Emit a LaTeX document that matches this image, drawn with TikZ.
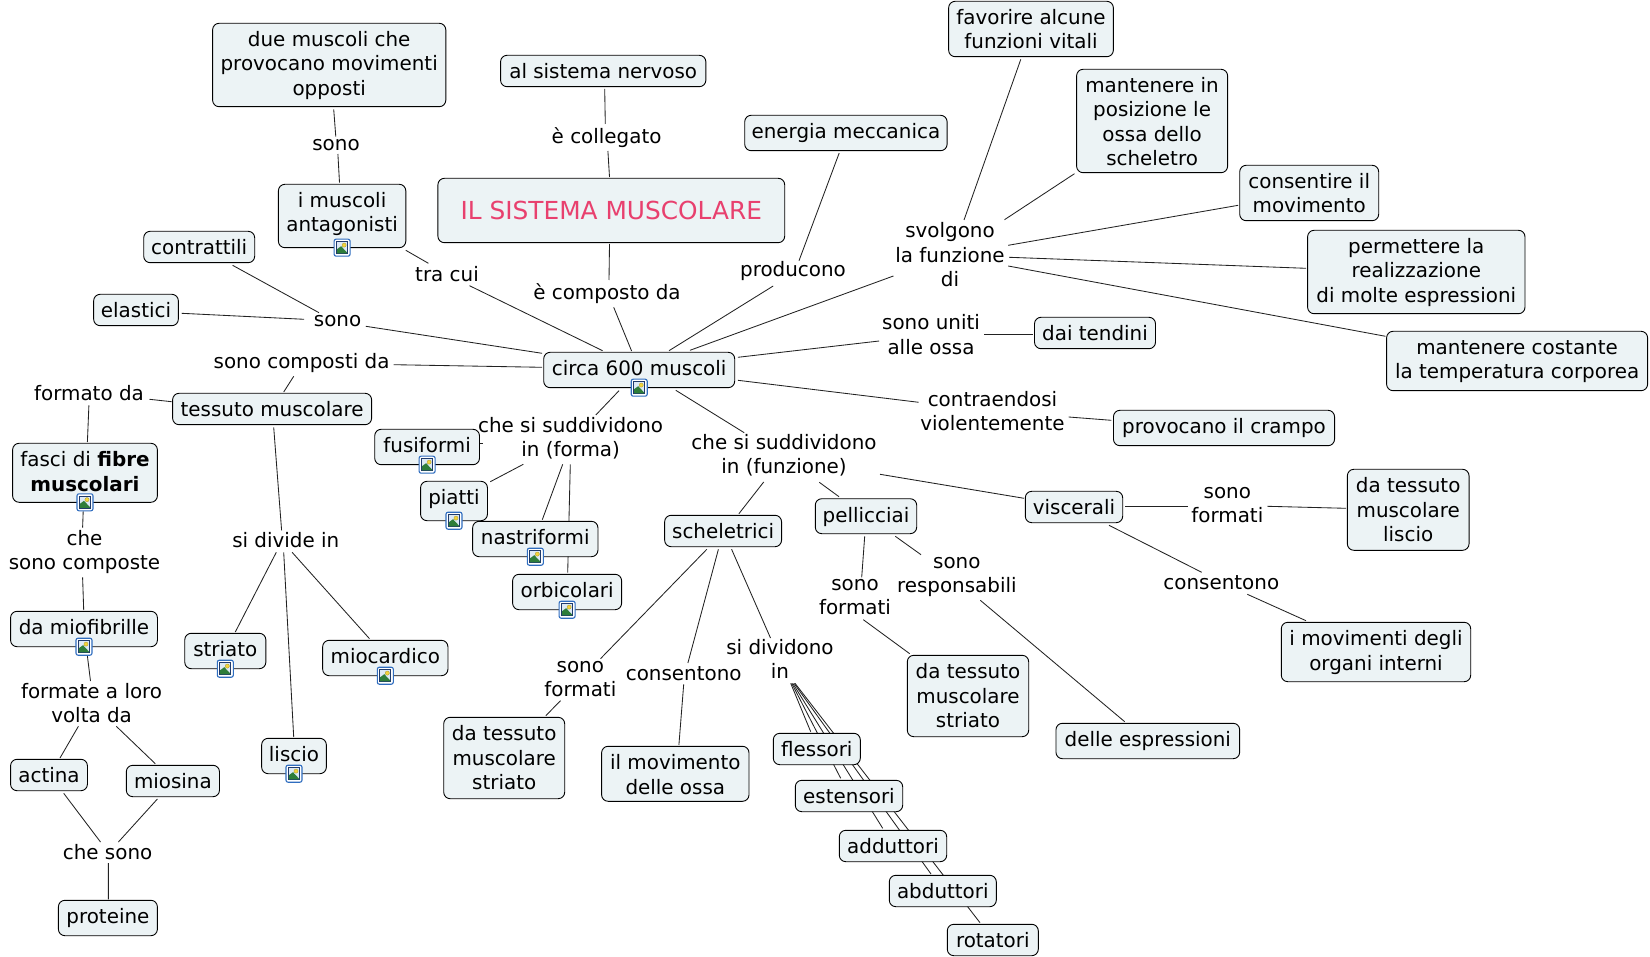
\documentclass[tikz,border=0pt]{standalone}
\usepackage{fontspec}
\setmainfont{DejaVu Sans}
\usetikzlibrary{calc,backgrounds}
\definecolor{boxfill}{HTML}{ECF3F5}
\definecolor{titlepink}{HTML}{E8406E}
\definecolor{linkcol}{HTML}{222222}
\definecolor{iconblue}{HTML}{2F6DBF}
\definecolor{iconsky}{HTML}{DCE9F5}
\definecolor{icongreen}{HTML}{2E7D3A}
\definecolor{iconnavy}{HTML}{1F3A6B}
\definecolor{iconsun}{HTML}{F2D43C}
\tikzset{
  concept/.style={draw=black,line width=0.9pt,fill=boxfill,rounded corners=6.5pt,inner sep=0pt,outer sep=0pt,align=center,text=black,font=\fontsize{19.9}{24.3}\selectfont},
  boxm/.code 2 args={\pgfmathsetmacro\boxht{23.4+(#2-1)*24.3}\pgfmathsetmacro\boxdepth{#1-\boxht}\tikzset{minimum height=#1pt,text height/.expanded=\boxht pt,text depth/.expanded=\boxdepth pt}},
  boxh/.style={boxm={#1}{1}},
  phrase/.style={inner sep=0pt,outer sep=0pt,align=center,text=black,font=\fontsize{19.9}{24.3}\selectfont,text height=17pt,text depth=4pt},
  twolines/.style={text height=41.3pt},
  threelines/.style={text height=65.6pt},
  conn/.style={draw=linkcol,line width=0.85pt},
}
\newcommand\imgicon[1]{%
  \begin{scope}[shift={(#1.south)}]
    \fill[white,draw=iconblue,line width=1.1pt,rounded corners=2pt] (-8,-8.5) rectangle (8,8.5);
    \fill[iconsky,draw=iconnavy,line width=0.8pt] (-5.5,-6) rectangle (5.5,6);
    \fill[icongreen] (-5.1,5.6) -- (-5.1,1.5) -- (-1,-1.5) -- (5.1,5) -- (5.1,5.6) -- cycle;
    \fill[iconsun,draw=iconsun!70!black,line width=0.3pt] (2,-2.6) circle (2.1);
  \end{scope}}
\begin{document}
\begin{tikzpicture}[x=1pt,y=-1pt]
\useasboundingbox (0,0) rectangle (1650,957);
% concepts
\node[concept,minimum width=233.2pt,boxm={83.4}{3}] (duemusc) at (329.2,65) {due muscoli che\\provocano movimenti\\opposti};
\node[concept,minimum width=205.3pt,boxh=31.4] (sistnerv) at (603.2,71) {al sistema nervoso};
\node[concept,minimum width=127.4pt,boxm={63.4}{2}] (antag) at (342.1,216) {i muscoli\\antagonisti};
\node[concept,minimum width=346.8pt,minimum height=64.4pt,text height=41pt,text depth=23.4pt,text=titlepink,font=\fontsize{24.8}{28}\selectfont] (title) at (611.3,210.5) {IL SISTEMA MUSCOLARE};
\node[concept,minimum width=111pt,boxh=31.4] (contr) at (199.2,247) {contrattili};
\node[concept,minimum width=84.7pt,boxh=31.4] (elast) at (136,310) {elastici};
\node[concept,minimum width=191pt,boxh=35.4] (circa) at (639.2,370) {circa 600 muscoli};
\node[concept,minimum width=199pt,boxh=31.4] (tessuto) at (272.1,409) {tessuto muscolare};
\node[concept,minimum width=104.8pt,boxh=35.4] (fusi) at (427.1,447) {fusiformi};
\node[concept,minimum width=144.8pt,boxm={59}{2}] (fasci) at (85,472.8) {fasci di \textbf{fibre}\\\textbf{muscolari}};
\node[concept,minimum width=202.4pt,boxh=35.4] (energia) at (845.9,133) {energia meccanica};
\node[concept,minimum width=164.7pt,boxm={55.4}{2}] (favorire) at (1031,29) {favorire alcune\\funzioni vitali};
\node[concept,minimum width=151pt,boxm={103.4}{4}] (mantpos) at (1152.1,121) {mantenere in\\posizione le\\ossa dello\\scheletro};
\node[concept,minimum width=139pt,boxm={55.4}{2}] (consmov) at (1309.2,193) {consentire il\\movimento};
\node[concept,minimum width=217.4pt,boxm={83.4}{3}] (permet) at (1416.3,272) {permettere la\\realizzazione\\di molte espressioni};
\node[concept,minimum width=261pt,boxm={59.4}{2}] (mantcost) at (1517.1,361) {mantenere costante\\la temperatura corporea};
\node[concept,minimum width=121pt,boxh=31.4] (tendini) at (1095,333) {dai tendini};
\node[concept,minimum width=221.1pt,boxh=35.4] (crampo) at (1224,428) {provocano il crampo};
\node[concept,minimum width=66.9pt,boxh=39.4] (piatti) at (454,501) {piatti};
\imgicon{piatti}
\node[concept,minimum width=125.3pt,boxh=35.4] (nastri) at (535.3,539) {nastriformi};
\node[concept,minimum width=109pt,boxh=35.4] (orbic) at (567.1,592) {orbicolari};
\node[concept,minimum width=116.9pt,boxh=31.4] (schel) at (723.1,531) {scheletrici};
\node[concept,minimum width=146.9pt,boxh=35.4] (miofib) at (84,629) {da miofibrille};
\node[concept,minimum width=81.1pt,boxh=35.4] (striato) at (225.3,651) {striato};
\node[concept,minimum width=125.3pt,boxh=35.4] (miocard) at (385.3,658) {miocardico};
\node[concept,minimum width=64.7pt,boxh=35.4] (liscio) at (294,756) {liscio};
\node[concept,minimum width=76.9pt,boxh=31.4] (actina) at (49,775) {actina};
\node[concept,minimum width=93.2pt,boxh=31.4] (miosina) at (172.9,781) {miosina};
\node[concept,minimum width=99pt,boxh=35.4] (proteine) at (107.9,918) {proteine};
\node[concept,minimum width=121pt,boxm={81.4}{3}] (tessstr) at (504.2,758) {da tessuto\\muscolare\\striato};
\node[concept,minimum width=147.4pt,boxm={55}{2}] (movossa) at (675.3,773.8) {il movimento\\delle ossa};
\node[concept,minimum width=87pt,boxh=31.4] (flessori) at (816.8,749) {flessori};
\node[concept,minimum width=107.4pt,boxh=31.4] (estens) at (849,796) {estensori};
\node[concept,minimum width=107.4pt,boxh=31.4] (addut) at (893,846) {adduttori};
\node[concept,minimum width=107pt,boxh=31.4] (abdut) at (942.8,891) {abduttori};
\node[concept,minimum width=91pt,boxh=31.4] (rotat) at (992.8,940) {rotatori};
\node[concept,minimum width=121.4pt,boxm={81.4}{3}] (tesspell) at (968,696) {da tessuto\\muscolare\\striato};
\node[concept,minimum width=101.4pt,boxh=35] (pellic) at (866,516.2) {pellicciai};
\node[concept,minimum width=97.4pt,boxh=31.4] (viscer) at (1074,507) {viscerali};
\node[concept,minimum width=183.7pt,boxh=35.4] (espress) at (1147.8,741) {delle espressioni};
\node[concept,minimum width=121.7pt,boxm={81}{3}] (tessliscio) at (1408.2,509.8) {da tessuto\\muscolare\\liscio};
\node[concept,minimum width=189.4pt,boxm={59.4}{2}] (movorg) at (1376,652) {i movimenti degli\\organi interni};
% icons
\imgicon{antag}\imgicon{circa}\imgicon{fusi}\imgicon{fasci}\imgicon{nastri}\imgicon{orbic}
\imgicon{miofib}\imgicon{striato}\imgicon{miocard}\imgicon{liscio}
% linking phrases
\node[phrase] (lsono1) at (336,144) {sono};
\node[phrase] (lcoll) at (606.6,136.7) {è collegato};
\node[phrase] (ltra) at (447,275) {tra cui};
\node[phrase] (lcomp) at (607,292.7) {è composto da};
\node[phrase] (lsono2) at (337.6,320) {sono};
\node[phrase] (lcomposti) at (301.6,361.7) {sono composti da};
\node[phrase] (lformato) at (89,394.3) {formato da};
\node[phrase,twolines] (lforma) at (570.6,437.7) {che si suddividono\\in (forma)};
\node[phrase,twolines] (lfunz) at (784,455) {che si suddividono\\in (funzione)};
\node[phrase] (lprod) at (793,270.5) {producono};
\node[phrase,threelines] (lsvolg) at (950,255.7) {svolgono\\la funzione\\di};
\node[phrase,twolines] (luniti) at (931,335.5) {sono uniti\\alle ossa};
\node[phrase,twolines] (lcontr) at (992.5,411.7) {contraendosi\\violentemente};
\node[phrase,twolines] (lchecomp) at (84.5,551) {che\\sono composte};
\node[phrase] (ldivide) at (285.8,541.3) {si divide in};
\node[phrase,twolines] (lformate) at (91.6,704) {formate a loro\\volta da};
\node[phrase] (lchesono) at (107.6,852.7) {che sono};
\node[phrase,twolines] (lform1) at (580.3,678) {sono\\formati};
\node[phrase] (lcons1) at (683.7,673.7) {consentono};
\node[phrase,twolines] (ldiv) at (780,660) {si dividono\\in};
\node[phrase,twolines] (lform2) at (855,596.3) {sono\\formati};
\node[phrase,twolines] (lresp) at (956.8,573.7) {sono\\responsabili};
\node[phrase,twolines] (lform3) at (1227.3,503.8) {sono\\formati};
\node[phrase] (lcons2) at (1221.3,583.3) {consentono};
% connectors
\begin{scope}[on background layer]
\draw[conn] ($(duemusc)+(4.5,44.3)$) -- ($(lsono1)+(-0.2,-7.3)$);
\draw[conn] ($(lsono1)+(1.9,10)$) -- ($(antag)+(-2.6,-33.3)$);
\draw[conn] ($(sistnerv)+(1.5,18)$) -- ($(lcoll)+(-1.3,-12.7)$);
\draw[conn] ($(lcoll)+(1.3,14.3)$) -- ($(title)+(-1.8,-33.5)$);
\draw[conn] ($(title)+(-1.8,33.5)$) -- ($(lcomp)+(2,-12.7)$);
\draw[conn] ($(lcomp)+(6.7,14.6)$) -- ($(circa)+(-7.6,-19)$);
\draw[conn] ($(antag)+(63.7,34.3)$) -- ($(ltra)+(-18.6,-11.7)$);
\draw[conn] ($(ltra)+(22.5,10.7)$) -- ($(circa)+(-36.6,-19.3)$);
\draw[conn] ($(contr)+(33.4,18.3)$) -- ($(lsono2)+(-18.6,-7.3)$);
\draw[conn] ($(elast)+(45.6,3.3)$) -- ($(lsono2)+(-33.4,-0.7)$);
\draw[conn] ($(lsono2)+(28.2,6.3)$) -- ($(circa)+(-97.1,-16.7)$);
\draw[conn] ($(lcomposti)+(92.1,3)$) -- ($(circa)+(-97.1,-2.7)$);
\draw[conn] ($(lcomposti)+(-7.9,14.6)$) -- ($(tessuto)+(11.6,-17)$);
\draw[conn] ($(tessuto)+(-100.5,-7.3)$) -- ($(lformato)+(60.5,5)$);
\draw[conn] ($(lformato)+(-0.1,11)$) -- ($(fasci)+(2.4,-30.8)$);
\draw[conn] ($(circa)+(-20.2,20.7)$) -- ($(lforma)+(25.2,-22.7)$);
\draw[conn] ($(circa)+(36.6,20.3)$) -- ($(lfunz)+(-39.8,-22.3)$);
\draw[conn] ($(circa)+(29.8,-19.3)$) -- ($(lprod)+(-19.8,15.5)$);
\draw[conn] ($(lprod)+(6,-9.8)$) -- ($(energia)+(-6.7,20)$);
\draw[conn] ($(circa)+(50.8,-19.7)$) -- ($(lsvolg)+(-56.6,20.3)$);
\draw[conn] ($(circa)+(98.7,-12.7)$) -- ($(luniti)+(-51.8,5.5)$);
\draw[conn] ($(circa)+(98.7,10.3)$) -- ($(lcontr)+(-73.8,-9.4)$);
\draw[conn] ($(lsvolg)+(14,-35.7)$) -- ($(favorire)+(-10.2,30.3)$);
\draw[conn] ($(lsvolg)+(54.5,-36)$) -- ($(mantpos)+(-77.6,52.7)$);
\draw[conn] ($(lsvolg)+(58.2,-10.4)$) -- ($(consmov)+(-71,12.3)$);
\draw[conn] ($(lsvolg)+(59.2,1.6)$) -- ($(permet)+(-110.3,-3.7)$);
\draw[conn] ($(lsvolg)+(58.2,10.3)$) -- ($(mantcost)+(-131.6,-24.7)$);
\draw[conn] ($(luniti)+(53,-1.2)$) -- ($(tendini)+(-62.1,1.3)$);
\draw[conn] ($(lcontr)+(76.2,5.3)$) -- ($(crampo)+(-112.7,-7.7)$);
\draw[conn] ($(lfunz)+(96,19.3)$) -- ($(viscer)+(-50,-8.7)$);
\draw[conn] ($(fusi)+(52.9,-3.7)$) -- ($(lforma)+(-87.3,5.6)$);
\draw[conn] ($(lforma)+(-47.3,26.6)$) -- ($(piatti)+(36.3,-19.3)$);
\draw[conn] ($(lforma)+(-7.9,26.6)$) -- ($(nastri)+(7,-19.3)$);
\draw[conn] ($(lforma)+(-0.3,26.6)$) -- ($(orbic)+(0.6,-19.3)$);
\draw[conn] ($(lfunz)+(-20.3,27)$) -- ($(schel)+(15.8,-17.3)$);
\draw[conn] ($(lfunz)+(35.3,27.3)$) -- ($(pellic)+(-27,-19.5)$);
\draw[conn] ($(fasci)+(-1.8,38.5)$) -- ($(lchecomp)+(-1.9,-23.3)$);
\draw[conn] ($(lchecomp)+(-1.9,26.3)$) -- ($(miofib)+(-0.3,-19)$);
\draw[conn] ($(tessuto)+(1.6,18.3)$) -- ($(ldivide)+(-4.2,-11)$);
\draw[conn] ($(miofib)+(3.4,27)$) -- ($(lformate)+(-1.1,-23)$);
\draw[conn] ($(lformate)+(-13.2,22.3)$) -- ($(actina)+(11,-17)$);
\draw[conn] ($(lformate)+(24.7,22.3)$) -- ($(miosina)+(-17.6,-17.3)$);
\draw[conn] ($(actina)+(14.7,18.3)$) -- ($(lchesono)+(-7.1,-10.7)$);
\draw[conn] ($(miosina)+(-15.5,18)$) -- ($(lchesono)+(10.8,-10.7)$);
\draw[conn] ($(lchesono)+(0.8,10.3)$) -- ($(proteine)+(0.5,-18.7)$);
\draw[conn] ($(ldivide)+(-9.5,11)$) -- ($(striato)+(10,-19)$);
\draw[conn] ($(ldivide)+(6.3,11)$) -- ($(miocard)+(-15.8,-19.3)$);
\draw[conn] ($(ldivide)+(-2.1,11)$) -- ($(liscio)+(-0.3,-19)$);
\draw[conn] ($(schel)+(-16.3,18.3)$) -- ($(lform1)+(20.2,-19.3)$);
\draw[conn] ($(lform1)+(-19.8,22.7)$) -- ($(tessstr)+(41.6,-42.3)$);
\draw[conn] ($(schel)+(-4.7,18.3)$) -- ($(lcons1)+(4.2,-10.7)$);
\draw[conn] ($(lcons1)+(0,10.6)$) -- ($(movossa)+(3.6,-28.8)$);
\draw[conn] ($(schel)+(8.5,18.3)$) -- ($(ldiv)+(-9.5,-22)$);
\draw[conn] ($(ldiv)+(10.7,23.3)$) -- ($(flessori)+(-6.1,-17.3)$);
\draw[conn] ($(ldiv)+(11.7,23.3)$) -- ($(estens)+(-8.3,-17.7)$);
\draw[conn] ($(ldiv)+(12.7,23.3)$) -- ($(addut)+(-10.3,-17.7)$);
\draw[conn] ($(ldiv)+(14,23.3)$) -- ($(abdut)+(-11.8,-17)$);
\draw[conn] ($(ldiv)+(15,23.3)$) -- ($(rotat)+(-12.8,-17.3)$);
\draw[conn] ($(pellic)+(-1.3,20.1)$) -- ($(lform2)+(6.7,-19)$);
\draw[conn] ($(lform2)+(8.3,23.4)$) -- ($(tesspell)+(-58.3,-42.3)$);
\draw[conn] ($(pellic)+(29.3,20.1)$) -- ($(lresp)+(-35.8,-19)$);
\draw[conn] ($(lresp)+(23.5,26.6)$) -- ($(espress)+(-23.1,-19.3)$);
\draw[conn] ($(viscer)+(51,-0.7)$) -- ($(lform3)+(-39,2.5)$);
\draw[conn] ($(lform3)+(40,2.5)$) -- ($(tessliscio)+(-62.2,-1.5)$);
\draw[conn] ($(viscer)+(35,18.3)$) -- ($(lcons2)+(-19.6,-11)$);
\draw[conn] ($(lcons2)+(26,11)$) -- ($(movorg)+(-70,-31.3)$);
\end{scope}
\end{tikzpicture}
\end{document}
